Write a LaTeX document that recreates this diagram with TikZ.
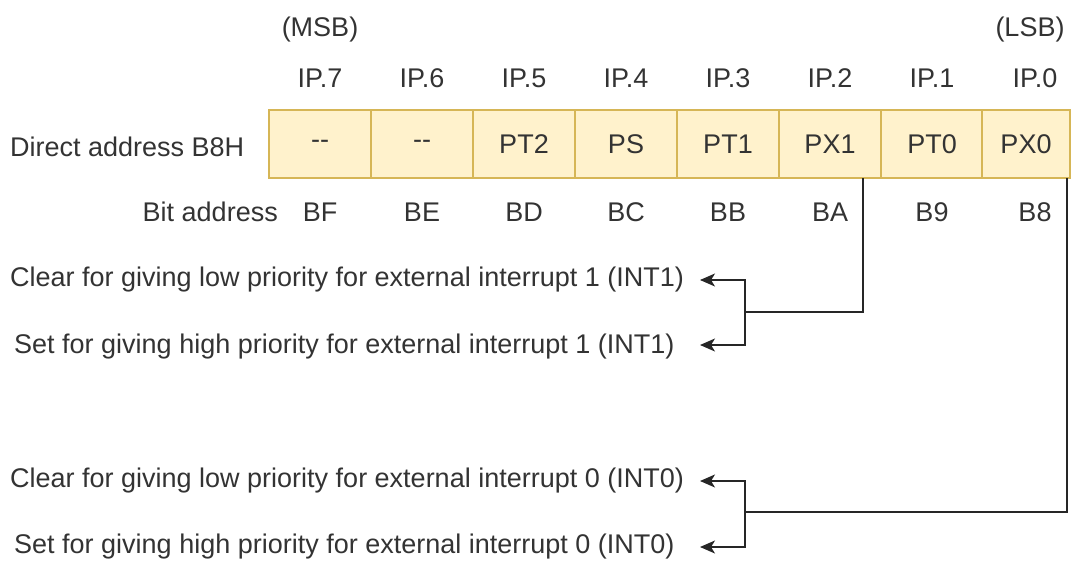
\documentclass[tikz,border=0pt]{standalone}
\usepackage{fontspec}
\setmainfont{Liberation Sans}
\usepackage{xcolor}
\usetikzlibrary{arrows.meta}
\definecolor{cellfill}{HTML}{FFF2CC}
\definecolor{celldraw}{HTML}{D6B656}
\definecolor{txt}{HTML}{333333}
\tikzset{
    lbl/.style = {inner sep=0pt, text=txt, font=\fontsize{27}{32}\selectfont},
    regcell/.style = {lbl, rectangle, draw=celldraw, fill=cellfill, line width=1.2pt, minimum width=102pt, minimum height=68pt},
    wire/.style = {draw=black!85, line width=1.3pt}
}
\begin{document}
\begin{tikzpicture}
            [x=1pt, y=-1pt, >={Stealth[length=15pt, width=13pt, inset=4pt]}]
            \useasboundingbox (0,0) rectangle (1071,560);

            % register cells
            \foreach \i/\t [count=\k from 0] in {7/{-}{-}, 6/{-}{-}, 5/PT2, 4/PS, 3/PT1, 2/PX1, 1/PT0}
                \node [regcell] (c\i) at (320+102*\k, 144) {\t};
            \node [regcell, minimum width=88pt] (c0) at (1026, 144) {PX0};

            % bit names and bit addresses
            \foreach \i/\a [count=\k from 0] in {7/BF, 6/BE, 5/BD, 4/BC, 3/BB, 2/BA, 1/B9}{
                \node [lbl] (ip\i) at (c\i |- 0,78) {IP.\i};
                \node [lbl] (ba\i) at (c\i |- 0,212) {\a};
            }
            \node [lbl] (ip0) at (1035,78) {IP.0};
            \node [lbl] (ba0) at (1035,212) {B8};
            \node [lbl] (msb) at (ip7 |- 0,30) {(MSB)};
            \node [lbl] (lsb) at (1030,30) {(LSB)};
            \node [lbl, anchor=west] (direct) at (10,147) {Direct address B8H};
            \node [lbl, anchor=east] (bitaddr) at (278,212) {Bit address};

            % descriptions
            \node [lbl, anchor=west] (clr1) at (10,280) {Clear for giving low priority for external interrupt 1 (INT1)};
            \node [lbl, anchor=west] (set1) at (14,347) {Set for giving high priority for external interrupt 1 (INT1)};
            \node [lbl, anchor=west] (clr0) at (10,481) {Clear for giving low priority for external interrupt 0 (INT0)};
            \node [lbl, anchor=west] (set0) at (14,547) {Set for giving high priority for external interrupt 0 (INT0)};

            % connectors
            \coordinate (tap1) at (863,178);
            \coordinate (tap0) at (1067,178);
            \coordinate (join1) at (745,312);
            \coordinate (join0) at (745,512);
            \coordinate (endclr1) at (700,280);
            \coordinate (endset1) at (700,345);
            \coordinate (endclr0) at (700,481);
            \coordinate (endset0) at (700,547);
            \draw [wire] (tap1) |- (join1);
            \draw [wire, ->] (join1) |- (endclr1);
            \draw [wire, ->] (join1) |- (endset1);
            \draw [wire] (tap0) |- (join0);
            \draw [wire, ->] (join0) |- (endclr0);
            \draw [wire, ->] (join0) |- (endset0);
\end{tikzpicture}
\end{document}
